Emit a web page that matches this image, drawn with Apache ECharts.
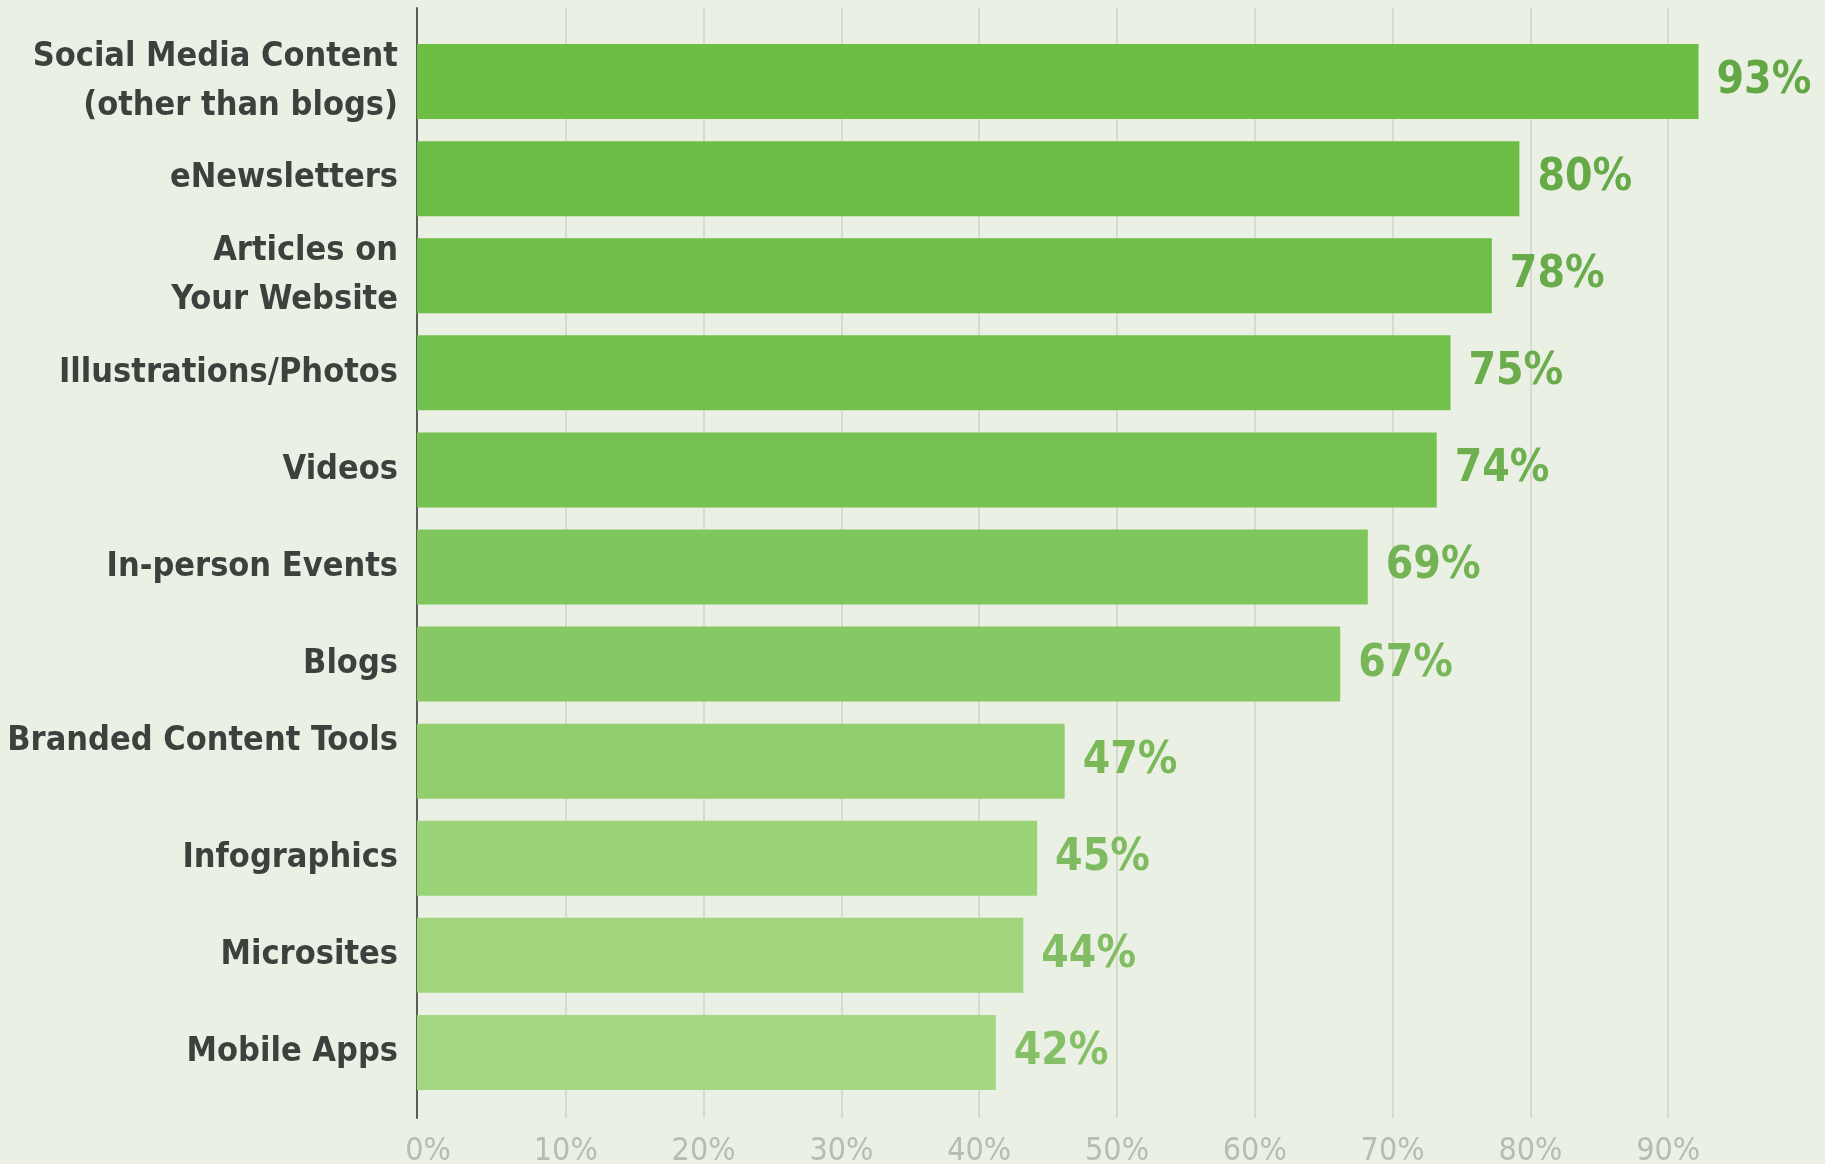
<!DOCTYPE html>
<html>
<head>
<meta charset="utf-8">
<title>Content tactics in use</title>
<script src="https://cdn.jsdelivr.net/npm/echarts@6/dist/echarts.min.js"></script>
<style>
  html, body { margin: 0; padding: 0; background: #ebf0e4; }
  #chart { width: 1825px; height: 1164px; }
</style>
</head>
<body>
<div id="chart"></div>
<script>
// Tactics, top to bottom
const categories = [
  'Social Media Content\n(other than blogs)',
  'eNewsletters',
  'Articles on\nYour Website',
  'Illustrations/Photos',
  'Videos',
  'In-person Events',
  'Blogs',
  'Branded Content Tools',
  'Infographics',
  'Microsites',
  'Mobile Apps'
];
// Share of respondents using each tactic (%)
const values = [93, 80, 78, 75, 74, 69, 67, 47, 45, 44, 42];
// Percentage axis ticks
const tickValues = [0, 10, 20, 30, 40, 50, 60, 70, 80, 90];

// Bar fills fade from saturated to pale green down the list
const barColors = ['#6cbe44', '#6bbd45', '#6ebe49', '#72c04e', '#75c152', '#7fc65c',
                   '#86c964', '#92cf6c', '#9bd378', '#a0d57e', '#a4d684'];
const labelColors = ['#64a845', '#66aa47', '#68ab4a', '#6bad4d', '#6eaf50', '#73b355',
                     '#77b659', '#7ab85a', '#7fbb60', '#82bd63', '#85bf66'];

const FONT = "'Liberation Sans Narrow', 'DejaVu Sans Condensed', sans-serif";

const chart = echarts.init(document.getElementById('chart'), null, { renderer: 'canvas' });

chart.setOption({
  backgroundColor: '#ebf0e4',
  animation: false,
  grid: [
    // bars
    { left: 417, right: 30, top: 33, bottom: 63, containLabel: false, outerBoundsMode: 'none' },
    // full-height frame: gridlines and percentage labels
    { left: 428, right: 19, top: 8, bottom: 46, containLabel: false, outerBoundsMode: 'none' }
  ],
  xAxis: [
    {
      gridIndex: 0, type: 'value', min: 0, max: 100, interval: 10,
      show: false
    },
    {
      gridIndex: 1, type: 'value', min: 0, max: 100, interval: 10,
      axisLine: { show: false },
      axisTick: { show: false },
      splitLine: { show: true, showMinLine: false, showMaxLine: false,
                   lineStyle: { color: '#cfd3c8', width: 1.5 } },
      axisLabel: {
        showMaxLabel: false,
        margin: 18,
        color: '#b7bbb0',
        fontFamily: FONT,
        fontSize: 32,
        formatter: v => tickValues.includes(v) ? v + '%' : ''
      }
    }
  ],
  yAxis: [
    {
      gridIndex: 0, type: 'category', data: categories, inverse: true,
      axisLine: { show: false },
      axisTick: { show: false },
      splitLine: { show: false },
      axisLabel: {
        margin: 19,
        color: '#3e403d',
        fontFamily: FONT,
        fontWeight: 'bold',
        fontSize: 34,
        lineHeight: 49,
        align: 'right',
        formatter: v => v === 'Branded Content Tools' ? '{raised|' + v + '}' : v,
        rich: {
          raised: {
            color: '#3e403d', fontFamily: FONT, fontWeight: 'bold', fontSize: 34,
            lineHeight: 49, padding: [0, 0, 40, 0]
          }
        }
      }
    },
    {
      // vertical baseline, pushed left onto the bars' zero
      gridIndex: 1, type: 'value', min: 0, max: 1, position: 'left', offset: 11,
      axisLine: { show: true, onZero: false, lineStyle: { color: '#5a5c58', width: 2 } },
      axisTick: { show: false },
      axisLabel: { show: false },
      splitLine: { show: false }
    }
  ],
  series: [
    {
      type: 'bar',
      xAxisIndex: 0,
      yAxisIndex: 0,
      barWidth: 75,
      z: 3,
      data: values.map((v, i) => ({
        value: v,
        itemStyle: { color: barColors[i] },
        label: { color: labelColors[i] }
      })),
      label: {
        show: true,
        position: 'right',
        distance: 18,
        fontFamily: FONT,
        fontWeight: 'bold',
        fontSize: 44,
        formatter: p => p.value + '%'
      }
    }
  ]
});
</script>
</body>
</html>
